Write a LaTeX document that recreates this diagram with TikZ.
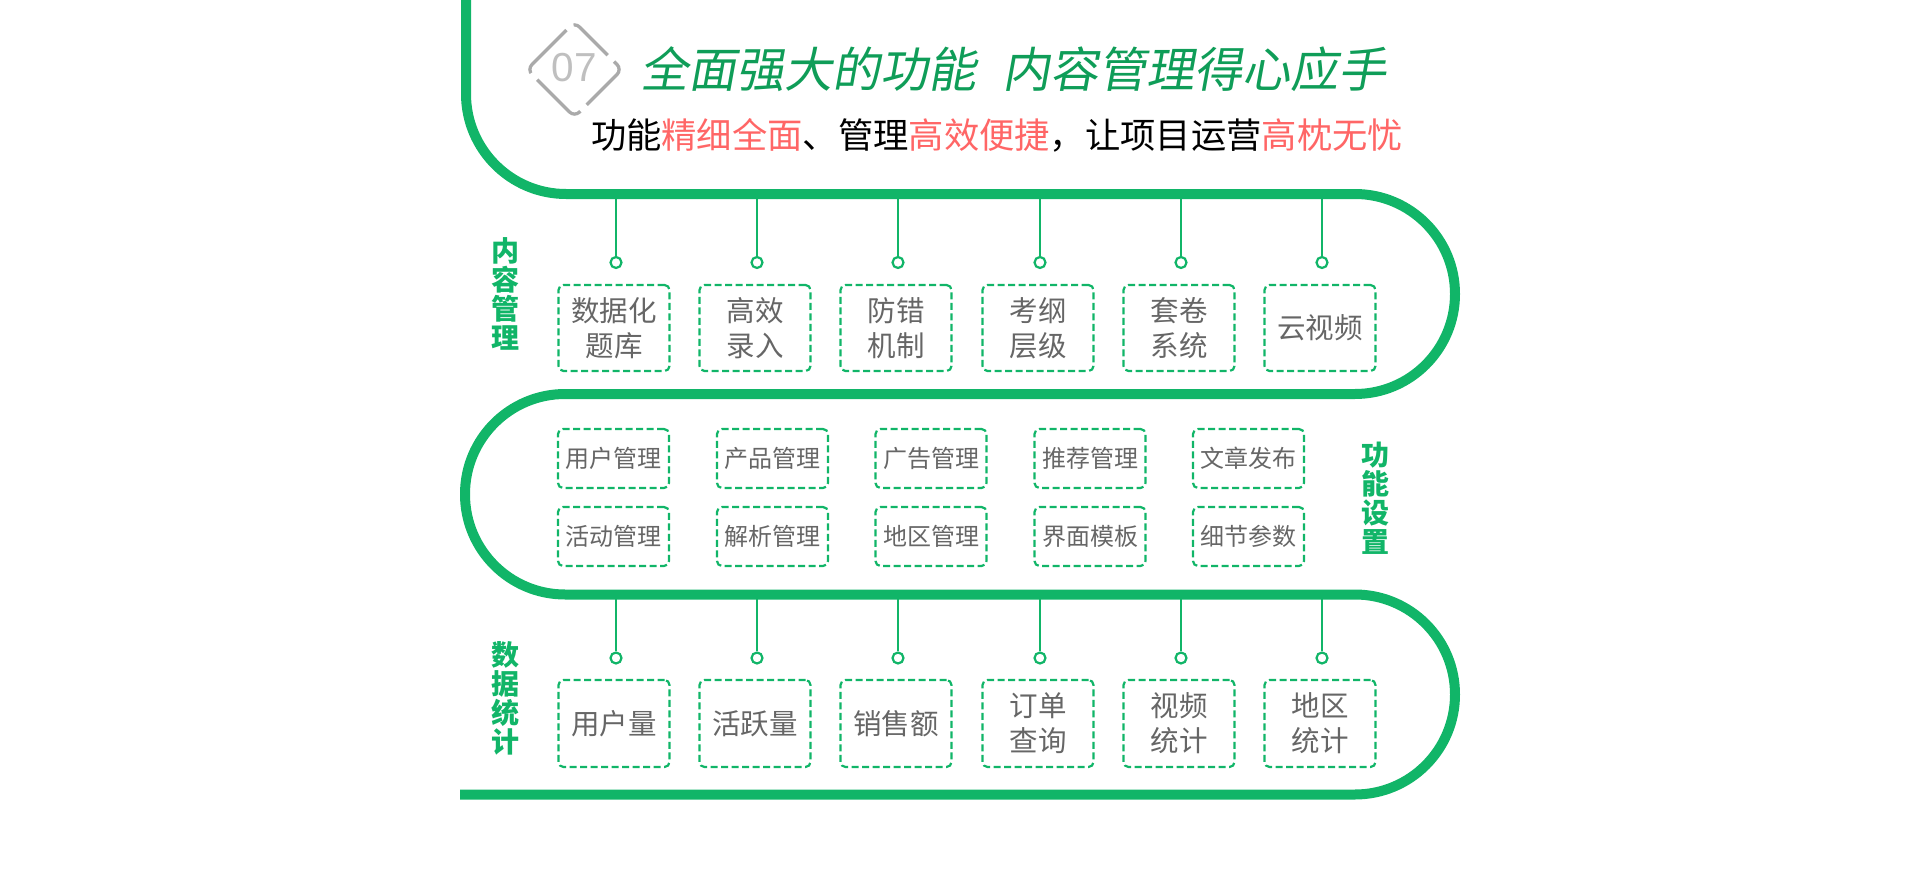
\documentclass[tikz,border=0pt]{standalone}
\usepackage{fontspec}
\newfontfamily\cjk{Noto Sans CJK SC}
\newfontfamily\cjkslant{Noto Sans CJK SC}[FakeSlant=0.18]
\newfontfamily\numfont{Liberation Sans}
\definecolor{lg}{HTML}{11B568}
\definecolor{tg}{HTML}{0F9D58}
\definecolor{pk}{HTML}{FF6666}
\definecolor{gr}{HTML}{666666}
\definecolor{dg}{HTML}{AAAAAA}
\tikzset{
 band/.style={line width=10pt, draw=lg, rounded corners=100pt},
 conn/.style={draw=lg, line width=1.5pt},
 dot/.style={circle, draw=lg, line width=2.2pt, fill=white, minimum size=11pt, inner sep=0pt},
 boxbase/.style={draw=lg, dash pattern=on 7pt off 3.5pt, line width=2.2pt, rounded corners=5pt, minimum width=111pt, text=gr, align=center, inner sep=0pt},
 bigbox/.style={boxbase, minimum height=86pt, font=\cjk\fontsize{28.5}{35}\selectfont},
 smallbox/.style={boxbase, minimum height=59pt, font=\cjk\fontsize{24}{28}\selectfont},
 side/.style={text=lg, align=center, font=\cjk\bfseries\fontsize{28}{29}\selectfont, inner sep=0pt},
}
\begin{document}
\begin{tikzpicture}[x=1pt,y=-1pt]
\useasboundingbox (0,0) rectangle (1920,888);
% main band
\draw[band] (466,0) -- (466,194) -- (1455,194) -- (1455,394) -- (465,394) -- (465,594.5) -- (1455,594.5) -- (1455,794.5) -- (460,794.5);
% badge
\draw[dg, line width=3.3pt, rounded corners=7pt, dash pattern=on 58pt off 9pt, dash phase=18pt] (574.5,22) -- (622,69.5) -- (574.5,117) -- (527,69.5) -- cycle;
\node[inner sep=0pt, text=black!25, font=\numfont\fontsize{40.5}{44}\selectfont] (num) at (574.5,67.5) {07};
% title
\node[inner sep=0pt, text=tg, font=\cjkslant\fontsize{48}{52}\selectfont] (title) at (1013.5,69.5) {全面强大的功能\hspace{27pt}内容管理得心应手};
\node[inner sep=0pt, text=black, font=\cjk\fontsize{35.3}{40}\selectfont] (sub) at (997,135) {功能\textcolor{pk}{精细全面}、管理\textcolor{pk}{高效便捷}，让项目运营\textcolor{pk}{高枕无忧}};
% side labels
\node[side] (s1) at (505,293.5) {内\\容\\管\\理};
\node[side] (s2) at (1375,498) {功\\能\\设\\置};
\node[side] (s3) at (505,698) {数\\据\\统\\计};
% row 1
\foreach \n/\x/\t in {1/614/{数据化\\题库}, 2/755/{高效\\录入}, 3/896/{防错\\机制}, 4/1038/{考纲\\层级}, 5/1179/{套卷\\系统}, 6/1320/{云视频}}{
  \node[bigbox] (a\n) at (\x,328) {\t};
  \coordinate (ua\n) at (\x+2,194);
  \node[dot] (da\n) at (\x+2,262.5) {};
  \draw[conn] (ua\n) -- (da\n);
}
% row 2
\foreach \n/\x/\ta/\tb in {1/613.5/用户管理/活动管理, 2/772.5/产品管理/解析管理, 3/931/广告管理/地区管理, 4/1090/推荐管理/界面模板, 5/1248.5/文章发布/细节参数}{
  \node[smallbox] (m\n) at (\x,458.5) {\ta};
  \node[smallbox] (n\n) at (\x,536.5) {\tb};
}
% row 3
\foreach \n/\x/\t in {1/614/{用户量}, 2/755/{活跃量}, 3/896/{销售额}, 4/1038/{订单\\查询}, 5/1179/{视频\\统计}, 6/1320/{地区\\统计}}{
  \node[bigbox, minimum height=87pt] (b\n) at (\x,723.5) {\t};
  \coordinate (ub\n) at (\x+2,594.5);
  \node[dot] (db\n) at (\x+2,658) {};
  \draw[conn] (ub\n) -- (db\n);
}
\end{tikzpicture}
\end{document}
